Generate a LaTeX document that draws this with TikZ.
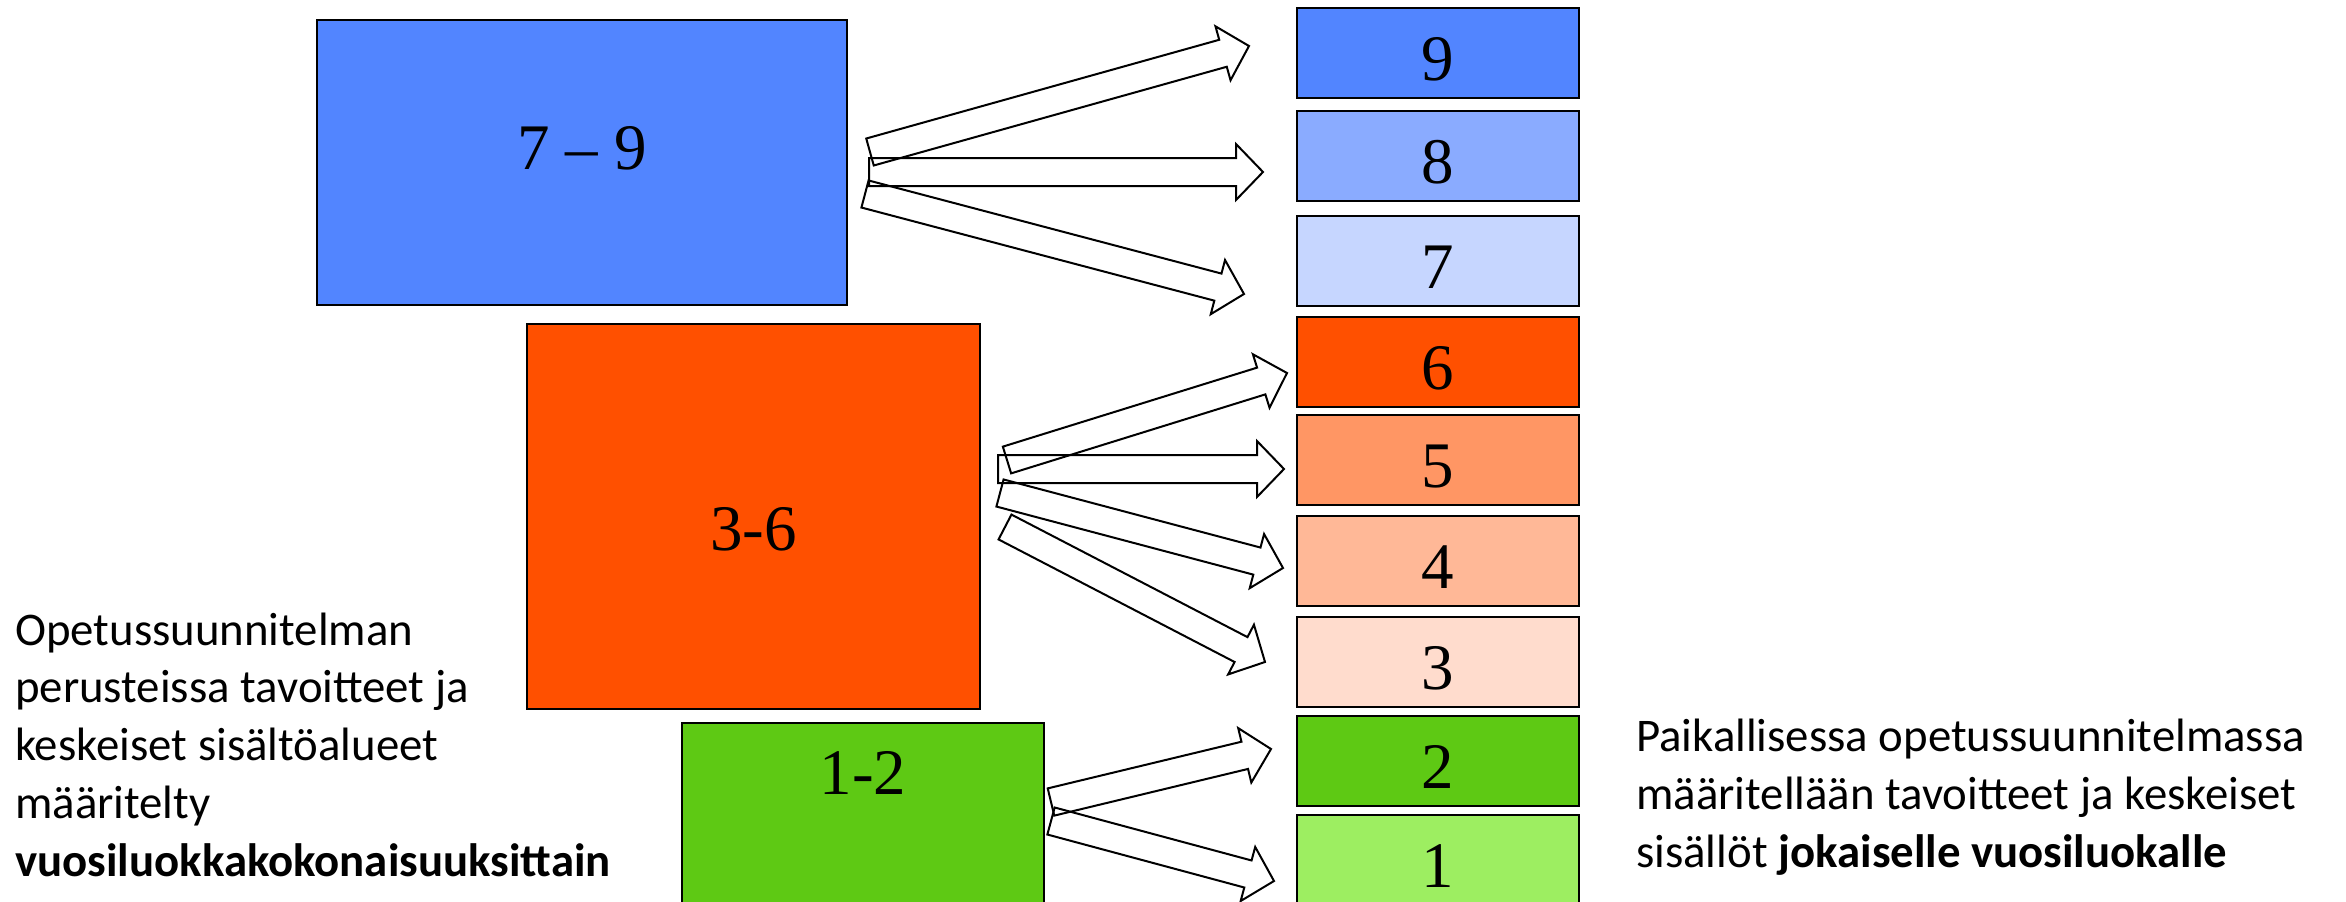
\documentclass[tikz,border=0pt]{standalone}
\usepackage{fontspec}
\setmainfont{Liberation Serif}
\newfontfamily\calib{Carlito}
\usetikzlibrary{calc}
\definecolor{cNine}{HTML}{5285FF}
\definecolor{cEight}{HTML}{8AABFF}
\definecolor{cSeven}{HTML}{C6D6FF}
\definecolor{cSix}{HTML}{FF5000}
\definecolor{cFive}{HTML}{FF9664}
\definecolor{cFour}{HTML}{FFB897}
\definecolor{cThree}{HTML}{FFDCCD}
\definecolor{cTwo}{HTML}{5EC914}
\definecolor{cOne}{HTML}{9DEE61}
\tikzset{
  box/.style={draw=black, line width=2pt, inner sep=0pt, anchor=north west,
    font=\fontsize{65}{78}\selectfont},
  grade/.style={box, minimum width=282, minimum height=90, text height=64pt, text depth=10pt},
  blockarrow/.style={draw=black, line width=2pt, line join=miter},
  note/.style={font=\calib\fontsize{46.8}{57.7}\selectfont, align=left, inner sep=0pt, anchor=base west}
}
\newcommand{\blockarr}[2]{%
  \coordinate (tn) at ($(#2)!27pt!(#1)$);
  \draw[blockarrow] ($(#1)!14pt!90:(#2)$) -- ($(tn)!14pt!-90:(#1)$) -- ($(tn)!28pt!-90:(#1)$)
    -- (#2) -- ($(tn)!28pt!90:(#1)$) -- ($(tn)!14pt!90:(#1)$) -- ($(#1)!14pt!-90:(#2)$) -- cycle;
}
\begin{document}
\begin{tikzpicture}[x=1pt, y=-1pt]
\useasboundingbox (0,0) rectangle (2346,902);
\clip (0,0) rectangle (2346,902);
% big boxes
\node[box, fill=cNine, minimum width=530, minimum height=285, text height=23pt, text depth=10pt] (g79) at (316,19) {7 -- 9};
\node[box, fill=cSix, minimum width=453, minimum height=385, text height=77pt, text depth=10pt] (g36) at (526,323) {3-6};
\node[box, fill=cTwo, minimum width=362, minimum height=188, text height=0pt, text depth=46pt] (g12) at (681,722) {1-2};
% grade boxes
\node[grade, fill=cNine]  (n9) at (1296,7)   {9};
\node[grade, fill=cEight] (n8) at (1296,110) {8};
\node[grade, fill=cSeven] (n7) at (1296,215) {7};
\node[grade, fill=cSix]   (n6) at (1296,316) {6};
\node[grade, fill=cFive]  (n5) at (1296,414) {5};
\node[grade, fill=cFour]  (n4) at (1296,515) {4};
\node[grade, fill=cThree] (n3) at (1296,616) {3};
\node[grade, fill=cTwo]   (n2) at (1296,715) {2};
\node[grade, fill=cOne]   (n1) at (1296,814) {1};
% arrow ends
\coordinate (t9) at (870,152);   \coordinate (h9) at (1249,46);
\coordinate (t8) at (869,172);   \coordinate (h8) at (1263,172);
\coordinate (t7) at (865,194);   \coordinate (h7) at (1244,294);
\coordinate (t6) at (1007,460);  \coordinate (h6) at (1287,373);
\coordinate (t5) at (998,469);   \coordinate (h5) at (1284,469);
\coordinate (t4) at (1000,493);  \coordinate (h4) at (1283,568);
\coordinate (t3) at (1005,527);  \coordinate (h3) at (1265,662);
\coordinate (t2) at (1051,802);  \coordinate (h2) at (1271,749);
\coordinate (t1) at (1051,821);  \coordinate (h1) at (1274,881);
\blockarr{t9}{h9}
\blockarr{t8}{h8}
\blockarr{t7}{h7}
\blockarr{t6}{h6}
\blockarr{t5}{h5}
\blockarr{t4}{h4}
\blockarr{t3}{h3}
\blockarr{t2}{h2}
\blockarr{t1}{h1}
% texts
\node[note] (left) at (15,876) {Opetussuunnitelman\\perusteissa tavoitteet ja\\keskeiset sisältöalueet\\määritelty\\\textbf{vuosiluokkakokonaisuuksittain}};
\node[note] (right) at (1636,867) {Paikallisessa opetussuunnitelmassa\\määritellään tavoitteet ja keskeiset\\sisällöt \textbf{jokaiselle vuosiluokalle}};
\end{tikzpicture}
\end{document}
